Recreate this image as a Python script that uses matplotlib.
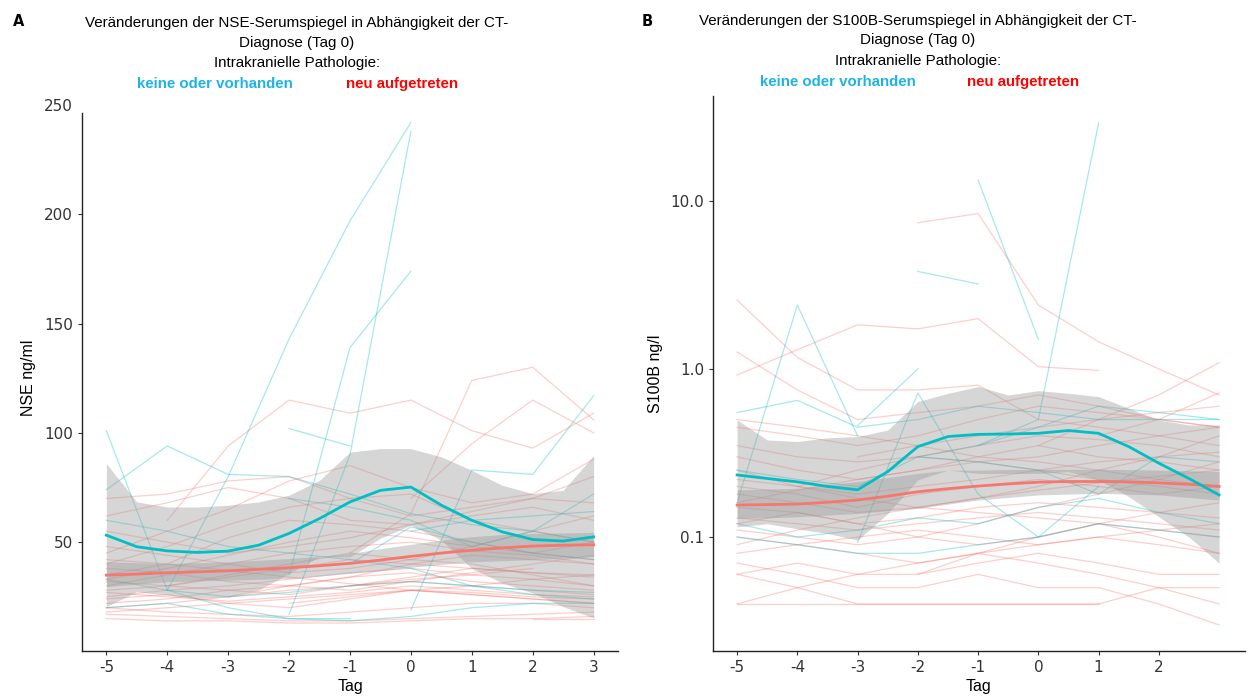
import numpy as np
import matplotlib
matplotlib.use("Agg")
import matplotlib.pyplot as plt

plt.rcParams["font.family"] = ["Liberation Sans", "DejaVu Sans"]

# ---------------- Data ----------------
days = [-5, -4, -3, -2, -1, 0, 1, 2, 3]
N = None

# NSE ng/ml, single patients (cyan = keine oder vorhanden, red = neu aufgetreten)
nse_cyan = [
    [N, 28, 80, 143, 197, 242, N, N, N],
    [N, N, N, 17, 90, 238, N, N, N],
    [N, N, N, 35, 139, 174, N, N, N],
    [101, 28, 20, 15, 15, N, N, N, N],
    [74, 94, 81, 80, 72, 63, 58, 55, 50],
    [N, N, N, 102, 94, N, N, N, N],
    [N, N, N, N, N, 19, 83, 81, 117],
    [20, 22, 17, 15, 14, 16, 20, 22, 22],
    [33, 28, 25, 27, 30, 32, 30, 28, 27],
    [N, N, N, N, 40, 57, 50, 45, 42],
    [N, N, N, 70, 66, 60, 48, 55, 72],
    [60, 55, 48, 45, 42, 38, 30, 26, 24],
    [N, N, N, N, N, 55, 60, 62, 64],
]
nse_red = [
    [N, 60, 94, 115, 109, 115, 101, 93, 109],
    [N, N, N, N, 45, 63, 124, 130, 106],
    [N, N, N, N, N, 70, 95, 115, 100],
    [70, 72, 78, 80, 70, 62, 66, 70, 68],
    [62, 68, 75, 70, 60, 58, 64, 70, 80],
    [45, 55, 65, 78, 85, 75, 68, 72, 88],
    [40, 48, 58, 66, 70, 72, 60, 55, 50],
    [35, 40, 52, 60, 58, 55, 50, 45, 42],
    [55, 50, 45, 48, 52, 58, 62, 66, 60],
    [30, 35, 40, 45, 48, 50, 46, 44, 40],
    [28, 30, 34, 38, 42, 40, 38, 36, 35],
    [25, 28, 30, 33, 36, 38, 35, 33, 30],
    [22, 24, 28, 30, 34, 36, 32, 30, 28],
    [20, 22, 25, 28, 30, 32, 30, 28, 26],
    [18, 20, 22, 24, 26, 28, 27, 25, 24],
    [17, 16, 15, 14, 14, 15, 16, 17, 18],
    [20, 18, 17, 16, 18, 20, 22, 22, 20],
    [15, 14, 14, 13, 13, 14, 15, 15, 16],
    [32, 30, 28, 26, 30, 34, 38, 36, 34],
    [38, 36, 32, 30, 34, 40, 44, 42, 40],
    [N, 30, 35, 40, 45, 42, 40, 35, 30],
    [N, N, 25, 30, 28, 32, 36, 40, 44],
    [24, 26, 22, 20, 24, 28, 26, 24, 22],
    [48, 44, 40, 36, 38, 42, 48, 55, 62],
    [N, N, N, 22, 25, 28, 30, 33, 35],
    [27, 25, 23, 25, 27, 30, 28, 26, 25],
    [N, N, N, N, 30, 33, 35, 38, N],
    [42, 40, 37, 34, 31, 28, 26, 24, 22],
    [N, N, N, N, N, N, N, 15, 15],
    [33, 38, 44, 50, 55, 52, 48, 45, 50],
]

# S100B ng/l, single patients
s100_cyan = [
    [N, N, N, N, 0.35, 0.5, 29, N, N],
    [N, N, N, N, 13.3, 1.5, N, N, N],
    [N, N, N, 3.8, 3.2, N, N, N, N],
    [0.16, 2.4, 0.4, N, N, N, N, N, N],
    [N, N, 0.46, 1.0, N, N, N, N, N],
    [0.55, 0.65, 0.45, 0.5, 0.6, 0.55, 0.5, 0.5, 0.5],
    [N, N, 0.093, 0.72, 0.18, 0.1, 0.2, N, N],
    [0.12, 0.1, 0.11, 0.13, 0.12, 0.15, 0.17, 0.14, 0.12],
    [0.1, 0.09, 0.08, 0.08, 0.09, 0.1, 0.12, 0.11, 0.1],
    [N, N, N, 0.3, 0.28, 0.25, 0.18, 0.3, 0.28],
    [0.25, 0.22, 0.2, 0.3, 0.35, 0.45, 0.6, 0.55, 0.5],
]
s100_red = [
    [N, N, N, 7.4, 8.4, 2.4, 1.45, 1.0, 0.7],
    [2.57, 1.17, 0.75, 0.75, 0.8, 0.5, 0.45, 0.4, 0.35],
    [0.92, 1.3, 1.83, 1.73, 1.99, 1.03, 0.98, N, N],
    [1.26, 0.75, 0.5, 0.55, 0.6, 0.7, 0.6, 0.5, 0.45],
    [N, N, N, N, N, 0.35, 0.5, 0.7, 1.09],
    [N, N, N, N, N, N, 0.4, 0.5, 0.72],
    [0.45, 0.4, 0.35, 0.4, 0.5, 0.6, 0.55, 0.5, 0.45],
    [0.35, 0.3, 0.28, 0.3, 0.35, 0.4, 0.38, 0.35, 0.3],
    [0.3, 0.25, 0.22, 0.25, 0.3, 0.35, 0.3, 0.28, 0.25],
    [0.25, 0.2, 0.18, 0.2, 0.22, 0.25, 0.28, 0.3, 0.32],
    [0.2, 0.18, 0.15, 0.18, 0.2, 0.22, 0.2, 0.18, 0.2],
    [0.18, 0.16, 0.14, 0.15, 0.17, 0.19, 0.21, 0.23, 0.25],
    [0.15, 0.14, 0.12, 0.13, 0.15, 0.16, 0.15, 0.14, 0.13],
    [0.13, 0.12, 0.11, 0.12, 0.13, 0.14, 0.13, 0.12, 0.11],
    [0.1, 0.09, 0.1, 0.11, 0.1, 0.09, 0.1, 0.11, 0.12],
    [0.08, 0.09, 0.08, 0.07, 0.08, 0.09, 0.1, 0.09, 0.08],
    [0.06, 0.07, 0.06, 0.06, 0.07, 0.08, 0.07, 0.06, 0.06],
    [0.06, 0.05, 0.04, 0.04, 0.04, 0.04, 0.04, 0.05, 0.05],
    [0.04, 0.04, 0.04, 0.04, 0.04, 0.04, 0.04, N, N],
    [0.04, 0.05, 0.06, 0.07, 0.08, 0.07, 0.06, 0.05, 0.04],
    [0.07, 0.06, 0.05, 0.05, 0.06, 0.05, 0.05, 0.04, 0.03],
    [0.09, 0.11, 0.13, 0.15, 0.17, 0.2, 0.25, 0.3, 0.4],
    [0.11, 0.1, 0.09, 0.1, 0.12, 0.15, 0.18, 0.22, 0.28],
    [N, 0.2, 0.25, 0.3, 0.28, 0.25, 0.22, 0.2, 0.18],
    [0.16, 0.19, 0.22, 0.25, 0.28, 0.3, 0.35, 0.4, 0.45],
    [0.5, 0.45, 0.4, 0.35, 0.3, 0.28, 0.25, 0.22, 0.2],
    [N, N, 0.3, 0.35, 0.4, 0.45, 0.5, 0.55, 0.6],
    [0.12, 0.14, 0.12, 0.1, 0.09, 0.1, 0.12, 0.14, 0.16],
    [N, N, N, 0.06, 0.08, 0.1, 0.12, 0.1, 0.08],
    [0.22, 0.2, 0.17, 0.15, 0.14, 0.13, 0.12, 0.11, 0.1],
]

# smoothed group means with confidence band, read at half days
smooth_days = [-5, -4.5, -4, -3.5, -3, -2.5, -2, -1.5, -1, -0.5, 0, 0.5, 1, 1.5, 2, 2.5, 3]

nse_cyan_fit = [53.2, 47.9, 46.0, 45.3, 45.9, 48.6, 54.0, 60.8, 68.4, 73.7, 75.2, 66.9, 60.0, 54.7, 51.2, 50.5, 52.4]
nse_cyan_hi = [85.9, 68.4, 66.1, 66.1, 66.9, 68.4, 71.5, 78.3, 91.2, 92.8, 92.8, 89.0, 82.9, 76.0, 72.2, 73.7, 89.7]
nse_cyan_lo = [20.5, 27.3, 25.8, 24.3, 25.0, 28.1, 35.7, 43.3, 43.3, 51.8, 57.8, 50.9, 38.0, 31.3, 26.7, 20.5, 15.3]
nse_red_fit = [34.9, 35.4, 36.0, 36.4, 36.9, 37.6, 38.3, 39.2, 40.3, 41.8, 43.5, 45.0, 46.3, 47.4, 48.2, 48.6, 48.8]
nse_red_hi = [41.0, 40.6, 40.3, 40.6, 41.0, 41.7, 42.5, 43.5, 44.8, 47.0, 49.0, 51.0, 52.5, 53.5, 54.0, 54.2, 54.5]
nse_red_lo = [29.6, 30.8, 31.9, 32.3, 32.6, 33.0, 33.4, 34.5, 35.7, 37.0, 38.5, 39.8, 41.0, 41.5, 42.0, 42.6, 43.3]

s100_cyan_fit = [0.234, 0.223, 0.213, 0.200, 0.191, 0.245, 0.345, 0.396, 0.408, 0.410, 0.414, 0.430, 0.414, 0.345, 0.275, 0.223, 0.178]
s100_cyan_hi = [0.497, 0.378, 0.370, 0.389, 0.396, 0.433, 0.640, 0.716, 0.785, 0.700, 0.743, 0.716, 0.684, 0.583, 0.497, 0.464, 0.464]
s100_cyan_lo = [0.115, 0.120, 0.112, 0.105, 0.096, 0.138, 0.219, 0.250, 0.239, 0.239, 0.239, 0.245, 0.219, 0.174, 0.132, 0.100, 0.070]
s100_red_fit = [0.155, 0.156, 0.157, 0.161, 0.166, 0.175, 0.186, 0.194, 0.201, 0.207, 0.212, 0.214, 0.214, 0.213, 0.210, 0.206, 0.200]
s100_red_hi = [0.191, 0.193, 0.195, 0.204, 0.214, 0.226, 0.239, 0.250, 0.250, 0.252, 0.253, 0.253, 0.253, 0.252, 0.250, 0.248, 0.245]
s100_red_lo = [0.129, 0.130, 0.132, 0.135, 0.138, 0.143, 0.148, 0.157, 0.166, 0.172, 0.178, 0.180, 0.182, 0.180, 0.178, 0.172, 0.166]

CYAN = "#00BFC4"
RED = "#F8766D"
TICK_SIZE = 11


def draw_panel(ax, cyan_rows, red_rows, cfit, chi, clo, rfit, rhi, rlo):
    x = np.array(days, dtype=float)
    for rows, col in ((red_rows, RED), (cyan_rows, CYAN)):
        for row in rows:
            y = np.array([np.nan if v is None else v for v in row], dtype=float)
            m = ~np.isnan(y)
            ax.plot(x[m], y[m], color=col, lw=0.9, alpha=0.35, zorder=1)
    sx = np.array(smooth_days)
    ax.fill_between(sx, rlo, rhi, color="#999999", alpha=0.4, lw=0, zorder=2)
    ax.fill_between(sx, clo, chi, color="#999999", alpha=0.4, lw=0, zorder=2)
    ax.plot(sx, rfit, color=RED, lw=2.0, zorder=3, solid_joinstyle="round")
    ax.plot(sx, cfit, color=CYAN, lw=2.0, zorder=3, solid_joinstyle="round")

    for s in ("top", "right"):
        ax.spines[s].set_visible(False)
    for s in ("left", "bottom"):
        ax.spines[s].set_linewidth(1.0)
        ax.spines[s].set_color("#222222")
    ax.tick_params(axis="both", length=3, width=0.8, color="#333333",
                   labelcolor="#333333", labelsize=TICK_SIZE)
    ax.set_xlabel("Tag", fontsize=11.5, labelpad=3)


fig = plt.figure(figsize=(12.49, 6.96), dpi=100)
W, H = 1249, 696

# ---------------- Panel A ----------------
axA = fig.add_axes([82 / W, 1 - 651 / H, (618 - 82) / W, (651 - 105) / H])
axA.set_xlim(-5.4, 3.4)
axA.set_ylim(0.2, 250)
axA.set_xticks(days)
axA.set_yticks([50, 100, 150, 200, 250])
draw_panel(axA, nse_cyan, nse_red, nse_cyan_fit, nse_cyan_hi, nse_cyan_lo,
           nse_red_fit, nse_red_hi, nse_red_lo)
axA.set_xticklabels([str(d) for d in days], family="DejaVu Sans", size=TICK_SIZE)
axA.set_yticklabels(["50", "100", "150", "200", "250"], family="DejaVu Sans", size=TICK_SIZE)
axA.spines["left"].set_bounds(0.2, 246.5)
axA.yaxis.get_major_ticks()[-1].tick1line.set_visible(False)
axA.set_ylabel("NSE ng/ml", fontsize=11.5, labelpad=6)

# ---------------- Panel B ----------------
axB = fig.add_axes([713 / W, 1 - 651 / H, (1245 - 713) / W, (651 - 96) / H])
axB.set_yscale("log")
axB.set_xlim(-5.4, 3.43)
axB.set_ylim(0.021, 42)
axB.set_xticks(days[:-1])
axB.set_yticks([0.1, 1.0, 10.0])
axB.minorticks_off()
draw_panel(axB, s100_cyan, s100_red, s100_cyan_fit, s100_cyan_hi, s100_cyan_lo,
           s100_red_fit, s100_red_hi, s100_red_lo)
axB.set_xticklabels([str(d) for d in days[:-1]], family="DejaVu Sans", size=TICK_SIZE)
axB.set_yticklabels(["0.1", "1.0", "10.0"], family="DejaVu Sans", size=TICK_SIZE)
axB.set_ylabel("S100B ng/l", fontsize=11.5, labelpad=5)

# ---------------- Titles ----------------
def title_block(cx, ys, name):
    fig.text(cx / W, 1 - ys[0] / H,
             "Veränderungen der %s-Serumspiegel in Abhängigkeit der CT-" % name,
             ha="center", va="center", fontsize=10.9)
    fig.text(cx / W, 1 - ys[1] / H, "Diagnose (Tag 0)", ha="center", va="center", fontsize=10.9)
    fig.text(cx / W, 1 - ys[2] / H, "Intrakranielle Pathologie:", ha="center", va="center", fontsize=10.9)


title_block(297, (23, 43, 63), "NSE")
title_block(918, (21, 40, 61), "S100B")

fig.text(215 / W, 1 - 84 / H, "keine oder vorhanden", ha="center", va="center",
         fontsize=10.8, fontweight="bold", color="#1DB3E6")
fig.text(402 / W, 1 - 84 / H, "neu aufgetreten", ha="center", va="center",
         fontsize=10.8, fontweight="bold", color="#FF0000")
fig.text(838 / W, 1 - 82 / H, "keine oder vorhanden", ha="center", va="center",
         fontsize=10.8, fontweight="bold", color="#1DB3E6")
fig.text(1023 / W, 1 - 82 / H, "neu aufgetreten", ha="center", va="center",
         fontsize=10.8, fontweight="bold", color="#FF0000")

fig.text(19 / W, 1 - 22 / H, "A", ha="center", va="center", fontsize=10.5,
         fontweight="bold", family="DejaVu Sans")
fig.text(647 / W, 1 - 21 / H, "B", ha="center", va="center", fontsize=10.5,
         fontweight="bold", family="DejaVu Sans")

fig.savefig("out.png", dpi=100, facecolor="white")
